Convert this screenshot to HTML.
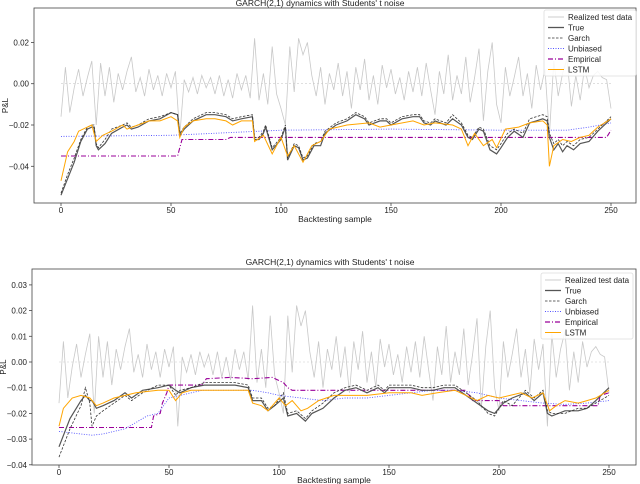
<!DOCTYPE html>
<html><head><meta charset="utf-8"><style>
html,body{margin:0;padding:0;background:#fff;}
svg{display:block;font-family:"Liberation Sans",sans-serif;}
</style></head><body>
<svg id="chart" width="640" height="484" viewBox="0 0 640 484" xmlns="http://www.w3.org/2000/svg"></svg>
<script>
// realized test data (x1e-3), sampled every 2 backtesting steps
const realized = [-16,8,-14,-2,7,-6,3,11,-20,10,-6,8,-9,5,-3,6,13,-4,3,-6,7,-3,4,-6,5,-2,6,-25,2,-4,3,-5,4,-2,3,-5,4,-6,2,-7,5,-3,4,-7,22,-8,5,-10,18,-5,-12,-20,18,-4,22,14,20,4,-6,8,-10,5,-3,10,-6,6,-12,8,-3,12,-8,4,-10,9,-2,7,-5,3,-8,6,-4,8,-6,10,-3,-15,6,-5,14,-8,4,-5,13,-9,3,17,-18,6,20,-10,-19,8,-6,3,13,-6,5,-12,9,-3,7,-25,11,-6,5,12,-11,4,-8,8,-2,4,6,3,2,-12];
// top panel series (x, value x1e-3)
const topTrueX = [0,3,6,9,12,14,15,16,17,20,23,28,30,32,35,40,45,50,53,54,56,60,66,70,75,78,82,87,88,90,92,93,96,100,102,103,106,108,110,112,115,118,120,125,130,134,138,140,145,148,150,155,160,163,165,168,170,175,178,182,185,187,190,192,195,198,200,203,206,210,213,216,219,221,222,224,226,228,230,233,236,240,244,248,250];
const topTrueY = [-54,-46,-38,-28,-22,-21,-21,-30,-32,-29,-24,-21,-20,-22,-21,-18,-17,-14,-15,-25,-22,-18,-15,-15,-16,-18,-17,-16,-27,-27,-24,-21,-32,-27,-21,-37,-30,-31,-37,-36,-30,-30,-24,-20,-18,-15,-17,-20,-18,-18,-20,-17,-16,-16,-19,-20,-18,-20,-17,-20,-26,-27,-22,-23,-32,-34,-31,-26,-23,-26,-19,-18,-17,-18,-26,-32,-29,-33,-30,-32,-29,-28,-23,-19,-17];
const topGarchY = [-53,-44,-36,-27,-21,-20,-20,-29,-31,-27,-22,-20,-19,-21,-20,-17,-16,-14,-15,-24,-21,-17,-14,-14,-15,-17,-16,-15,-26,-26,-23,-20,-31,-26,-20,-36,-29,-30,-36,-35,-29,-28,-23,-19,-17,-14,-16,-19,-17,-17,-19,-16,-15,-15,-18,-19,-17,-19,-15,-19,-25,-26,-21,-22,-30,-32,-29,-24,-22,-24,-17,-16,-15,-16,-24,-29,-27,-30,-28,-30,-27,-26,-22,-18,-16];
const topLstmX = [0,3,6,8,12,14,16,19,23,28,30,35,40,45,50,53,54,56,60,66,70,75,78,82,87,88,92,96,100,103,106,110,114,118,122,130,140,145,150,160,165,170,178,182,185,188,192,196,198,202,208,213,219,221,222,224,228,232,236,240,244,250];
const topLstmY = [-47,-33,-28,-23,-21,-20,-28,-25,-23,-20,-22,-20,-18,-18,-16,-18,-26,-21,-18,-17,-17,-18,-20,-18,-18,-28,-25,-34,-26,-35,-30,-38,-30,-28,-22,-20,-19,-21,-20,-18,-20,-19,-20,-22,-30,-24,-30,-27,-31,-22,-21,-19,-18,-20,-40,-30,-27,-28,-26,-25,-21,-17];
const topUnbX = [0,50,100,150,200,230,240,250];
const topUnbY = [-25.5,-25,-22.5,-22,-22.5,-22.5,-21,-19];
const topEmpX = [0,53,55,75,77,248,250];
const topEmpY = [-35,-35,-27,-27,-26,-26,-22.5];
// bottom panel series
const botTrueX = [0,5,10,12,14,15,17,20,25,30,33,38,45,50,53,55,60,66,70,80,86,88,92,95,98,102,104,108,112,115,120,125,130,135,140,145,148,150,160,165,170,175,180,185,190,195,198,202,206,212,216,220,222,224,230,236,240,244,250];
const botTrueY = [-33,-22,-15,-13,-15,-15,-18,-17,-15,-12,-14,-11,-10,-9,-11,-12,-10,-9,-9,-9,-10,-15,-15,-19,-17,-14,-21,-20,-23,-20,-18,-14,-11,-10,-12,-10,-12,-10,-10,-11,-11,-10,-10,-13,-16,-19,-20,-16,-14,-12,-15,-12,-20,-21,-19,-19,-18,-15,-10];
const botGarchY = [-37,-26,-17,-10,-16,-25,-21,-19,-16,-13,-15,-12,-9,-9,-13,-11,-10,-8,-8,-8,-9,-14,-14,-18,-17,-12,-20,-19,-22,-19,-16,-12,-10,-9,-11,-9,-11,-9,-9,-10,-10,-9,-9,-12,-15,-20,-21,-15,-17,-11,-14,-11,-19,-20,-20,-18,-18,-16,-13];
const botLstmX = [0,2,6,10,14,17,20,25,30,35,45,50,53,56,60,70,80,86,88,92,95,100,103,106,110,113,118,125,130,140,150,160,165,172,180,185,190,195,200,205,210,215,220,223,226,230,236,240,244,250];
const botLstmY = [-25,-18,-14,-13,-14,-17,-16,-14,-13,-12,-11,-11,-15,-12,-11,-11,-11,-11,-16,-17,-19,-14,-17,-15,-19,-18,-15,-13,-13,-13,-12,-12,-13,-12,-11,-13,-15,-13,-14,-13,-12,-14,-12,-19,-17,-15,-16,-15,-14,-11];
const botUnbX = [0,10,15,20,30,40,45,50,55,65,80,88,95,100,110,120,130,140,150,160,170,180,190,200,210,220,230,240,250];
const botUnbY = [-27,-28,-28.5,-28,-26,-21,-20,-14,-13,-11,-11,-11,-12,-13,-14,-15,-14,-14,-13,-12,-11,-11,-12,-14,-15,-16,-16.5,-16,-15];
const botEmpX = [0,42,43,46,47,49,50,65,67,78,88,97,102,104,106,185,188,200,202,245,246,250];
const botEmpY = [-25.5,-25.5,-21,-20,-16,-12,-9,-9,-6.5,-6,-6.5,-6,-8,-10,-11,-11,-15,-15,-17,-17,-13,-12];
const topTicksY = [0.02,0,-0.02,-0.04];
const botTicksY = [0.03,0.02,0.01,0,-0.01,-0.02,-0.03,-0.04];
const ticksX = [0,50,100,150,200,250];

const NS="http://www.w3.org/2000/svg";
const svg=document.getElementById('chart');
function mk(tag,attrs,parent){const e=document.createElementNS(NS,tag);for(const k in attrs)e.setAttribute(k,attrs[k]);(parent||svg).appendChild(e);return e;}
function txt(s,attrs,parent){const e=mk('text',attrs,parent);e.textContent=s;return e;}

function panel(cfg){
  const g=mk('g',{});
  
  
  const sx=v=>cfg.x0+v*2.2;
  const sy=v=>cfg.y0-v*cfg.k;
  const fr=mk('rect',{x:cfg.L,y:cfg.T,width:cfg.R-cfg.L,height:cfg.B-cfg.T,fill:'none',stroke:'#444','stroke-width':0.8},g);
  
  
  cfg.yt.forEach(t=>{
    const y=sy(t);
    mk('line',{x1:cfg.L-3,x2:cfg.L,y1:y,y2:y,stroke:'#444','stroke-width':0.8},g);
    const lb=txt(t.toFixed(2).replace('-','\u2212'),{x:cfg.L-5,y:y+3,'font-size':8,'text-anchor':'end',fill:'#222'},g);
    
    
  });
  ticksX.forEach(t=>{
    const x=sx(t);
    mk('line',{x1:x,x2:x,y1:cfg.B,y2:cfg.B+3,stroke:'#444','stroke-width':0.8},g);
    const lb=txt(String(t),{x:x,y:cfg.B+10,'font-size':8,'text-anchor':'middle',fill:'#222'},g);
    
    
  });
  const z=mk('line',{x1:sx(0),x2:sx(250),y1:sy(0),y2:sy(0),stroke:'#ccc','stroke-width':0.6,'stroke-dasharray':'2,2'},g);
  
  
  function line(xs,ys,style,name){
    const pts=xs.map((x,i)=>sx(x).toFixed(1)+','+sy(ys[i]/1000).toFixed(1)).join(' ');
    const p=mk('polyline',Object.assign({points:pts,fill:'none'},style),g);
    
    
  }
  line(realized.map((v,i)=>i*2),realized,{stroke:'#c8c8c8','stroke-width':0.8},'realized-series');
  line(cfg.empX,cfg.empY,{stroke:'#990099','stroke-width':1.1,'stroke-dasharray':'5,2,1,2'},'empirical-series');
  line(cfg.unbX,cfg.unbY,{stroke:'#5555ff','stroke-width':0.9,'stroke-dasharray':'1,1.5'},'unbiased-series');
  line(cfg.trueX,cfg.trueY,{stroke:'#555','stroke-width':1.2},'true-series');
  line(cfg.trueX,cfg.garchY,{stroke:'#333','stroke-width':0.8,'stroke-dasharray':'2.5,1.5'},'garch-series');
  line(cfg.lstmX,cfg.lstmY,{stroke:'#ffa500','stroke-width':1},'lstm-series');
  const tt=txt("GARCH(2,1) dynamics with Students' t noise",{x:cfg.tx,y:cfg.ty,'font-size':8.5,'text-anchor':'middle',fill:'#222'},g);
  
  
  const xl=txt('Backtesting sample',{x:(cfg.L+cfg.R)/2,y:cfg.B+cfg.xlo,'font-size':8.5,'text-anchor':'middle',fill:'#222'},g);
  
  
  const yl=txt('P&L',{x:0,y:0,'font-size':8,'text-anchor':'middle',fill:'#222',transform:'translate('+cfg.ylx+','+((cfg.T+cfg.B)/2)+') rotate(-90)'},g);
  
  
  const lg=mk('g',{},g);
  
  
  mk('rect',{x:cfg.lgx,y:cfg.lgy,width:92,height:66,rx:2,fill:'#fff','fill-opacity':0.85,stroke:'#ddd','stroke-width':0.8},lg);
  const ent=[['Realized test data',{stroke:'#c8c8c8','stroke-width':0.9}],['True',{stroke:'#555','stroke-width':1.3}],['Garch',{stroke:'#333','stroke-width':0.8,'stroke-dasharray':'2.5,1.5'}],['Unbiased',{stroke:'#5555ff','stroke-width':1,'stroke-dasharray':'1,1.5'}],['Empirical',{stroke:'#990099','stroke-width':1.2,'stroke-dasharray':'5,2,1,2'}],['LSTM',{stroke:'#ffa500','stroke-width':1}]];
  ent.forEach((e,i)=>{
    const y=cfg.lgy+7+i*10.5;
    const eg=mk('g',{},lg);
    
    
    mk('line',Object.assign({x1:cfg.lgx+4,x2:cfg.lgx+20,y1:y,y2:y},e[1]),eg);
    txt(e[0],{x:cfg.lgx+24,y:y+3,'font-size':8,fill:'#222'},eg);
  });
}
panel({name:'top-panel',L:34,R:636,T:8,B:203,x0:61,y0:83.7,k:2065,yt:topTicksY,tx:320,ty:6,ylx:8,lgx:544,lgy:10,xlo:19,
  trueX:topTrueX,trueY:topTrueY,garchY:topGarchY,lstmX:topLstmX,lstmY:topLstmY,unbX:topUnbX,unbY:topUnbY,empX:topEmpX,empY:topEmpY});
panel({name:'bottom-panel',L:32,R:636,T:269,B:465,x0:59,y0:362,k:2570,yt:botTicksY,tx:330,ty:265,ylx:6,lgx:541,lgy:273,xlo:18,
  trueX:botTrueX,trueY:botTrueY,garchY:botGarchY,lstmX:botLstmX,lstmY:botLstmY,unbX:botUnbX,unbY:botUnbY,empX:botEmpX,empY:botEmpY});
</script>
</body></html>
